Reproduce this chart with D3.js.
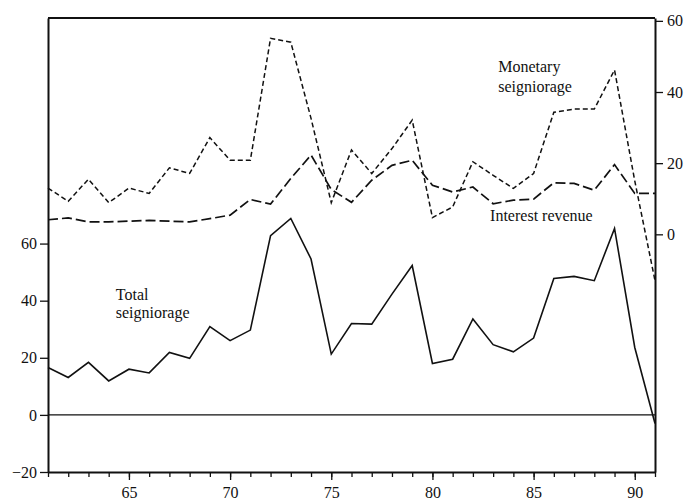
<!DOCTYPE html>
<html>
<head>
<meta charset="utf-8">
<script src="https://cdn.jsdelivr.net/npm/d3@7"></script>
<style>
  body { margin: 0; background: #fff; }
  svg text { font-family: "Liberation Serif", "DejaVu Serif", serif !important; fill: #111; }
  .axis path, .axis line { stroke: #111; }
</style>
</head>
<body>
<div id="chart"></div>
<script>

// years 1961..1991 (two-digit labels on the axis)
const years = [61, 62, 63, 64, 65, 66, 67, 68, 69, 70, 71, 72, 73, 74, 75, 76,
    77, 78, 79, 80, 81, 82, 83, 84, 85, 86, 87, 88, 89, 90, 91];

// total seigniorage, left axis
const totalSeign = [16.6, 13.1, 18.4, 11.9, 16.0, 14.7, 21.9, 19.8, 30.9, 26.0, 29.7,
    62.8, 68.8, 54.6, 21.3, 32.0, 31.8, 42.3, 52.3, 18.0, 19.5, 33.6, 24.6, 22.1,
    26.9, 47.8, 48.5, 47.0, 65.3, 23.6, -3.0];

// monetary seigniorage, right axis
const monetarySeign = [13.0, 9.3, 15.5, 8.9, 13.0, 11.5, 18.7, 17.1, 27.2, 20.8, 20.8,
    55.1, 54.0, 32.6, 8.9, 23.7, 17.1, 24.1, 32.1, 4.7, 7.7, 20.4, 16.6, 12.9,
    17.1, 34.3, 35.2, 35.2, 46.2, 15.0, -13.0];

// interest revenue, right axis
const interestRev = [4.1, 4.6, 3.5, 3.5, 3.7, 3.9, 3.7, 3.5, 4.4, 5.4, 9.8,
    8.5, 15.7, 22.3, 12.6, 9.0, 15.2, 19.4, 20.8, 13.8, 11.9, 13.3, 8.6, 9.6,
    9.9, 14.5, 14.3, 12.4, 19.6, 11.5, 11.5];

const xMajorTicks = [65, 70, 75, 80, 85, 90];
const leftTicks = [-20, 0, 20, 40, 60];
const rightTicks = [0, 20, 40, 60];

// set the dimensions and margins of the graph
const margin = { top: 18, right: 33, bottom: 28, left: 48 },
    width = 688 - margin.left - margin.right,
    height = 500 - margin.top - margin.bottom;

const svg = d3.select("#chart")
    .append("svg")
    .attr("width", width + margin.left + margin.right)
    .attr("height", height + margin.top + margin.bottom)
    .append("g")
    .attr("transform", `translate(${margin.left},${margin.top})`);

const x = d3.scaleLinear()
    .domain([61, 91])
    .range([0, width]);

const yLeft = d3.scaleLinear()
    .domain([-20, 139])
    .range([height, 0]);

const yRight = d3.scaleLinear()
    .domain([-66.8, 60.8])
    .range([height, 0]);

// zero line of the left axis
svg.append("line")
    .attr("x1", 0).attr("x2", width)
    .attr("y1", yLeft(0)).attr("y2", yLeft(0))
    .attr("stroke", "#111")
    .attr("stroke-width", 1.2);

// top frame
svg.append("line")
    .attr("x1", 0).attr("x2", width)
    .attr("y1", 0).attr("y2", 0)
    .attr("stroke", "#111")
    .attr("stroke-width", 2);

// bottom axis: minor ticks every year, labelled every 5
svg.append("g")
    .attr("class", "axis")
    .attr("transform", `translate(0, ${height})`)
    .call(d3.axisBottom(x).tickValues(years).tickSize(5).tickSizeOuter(0).tickFormat(""))
    .call(g => g.select(".domain").attr("stroke-width", 2))
    .call(g => g.selectAll(".tick line").attr("stroke-width", 1.3));

svg.append("g")
    .attr("class", "axis")
    .attr("transform", `translate(0, ${height})`)
    .call(d3.axisBottom(x).tickValues(xMajorTicks).tickSize(8).tickPadding(7).tickSizeOuter(0))
    .call(g => g.select(".domain").remove())
    .call(g => g.selectAll(".tick line").attr("stroke-width", 1.3))
    .call(g => g.selectAll("text").style("font-size", "16px"));

// left axis
svg.append("g")
    .attr("class", "axis")
    .call(d3.axisLeft(yLeft).tickValues(leftTicks).tickSize(8).tickPadding(3).tickSizeOuter(0))
    .call(g => g.select(".domain").attr("stroke-width", 2))
    .call(g => g.selectAll(".tick line").attr("stroke-width", 1.3))
    .call(g => g.selectAll("text").style("font-size", "16px"));

// right axis
svg.append("g")
    .attr("class", "axis")
    .attr("transform", `translate(${width}, 0)`)
    .call(d3.axisRight(yRight).tickValues(rightTicks).tickSize(8).tickPadding(4).tickSizeOuter(0))
    .call(g => g.select(".domain").attr("stroke-width", 2))
    .call(g => g.selectAll(".tick line").attr("stroke-width", 1.3))
    .call(g => g.selectAll("text").style("font-size", "16px"));

function addLine(values, yScale, dash, w) {
    svg.append("path")
        .datum(years.map((yr, i) => [yr, values[i]]))
        .attr("fill", "none")
        .attr("stroke", "#111")
        .attr("stroke-width", w)
        .attr("stroke-dasharray", dash)
        .attr("stroke-linejoin", "miter")
        .attr("d", d3.line()
            .x(d => x(d[0]))
            .y(d => yScale(d[1]))
        );
}

addLine(interestRev, yRight, "10,4", 1.7);
addLine(monetarySeign, yRight, "5,3", 1.5);
addLine(totalSeign, yLeft, null, 1.6);

// series labels
const labels = [
    { lines: ["Monetary", "seigniorage"], x: 83.25, y: 45.6, gap: 20 },
    { lines: ["Interest revenue"], x: 82.85, y: 3.7, gap: 0 },
    { lines: ["Total", "seigniorage"], x: 64.35, y: 40.4, gap: 18 }
];

labels.forEach((l, k) => {
    const yScale = k === 2 ? yLeft : yRight;
    const t = svg.append("text")
        .attr("x", x(l.x))
        .attr("y", yScale(l.y))
        .style("font-size", "16px");
    l.lines.forEach((s, i) => {
        t.append("tspan")
            .attr("x", x(l.x))
            .attr("dy", i === 0 ? 0 : l.gap)
            .text(s);
    });
});

</script>
</body>
</html>
